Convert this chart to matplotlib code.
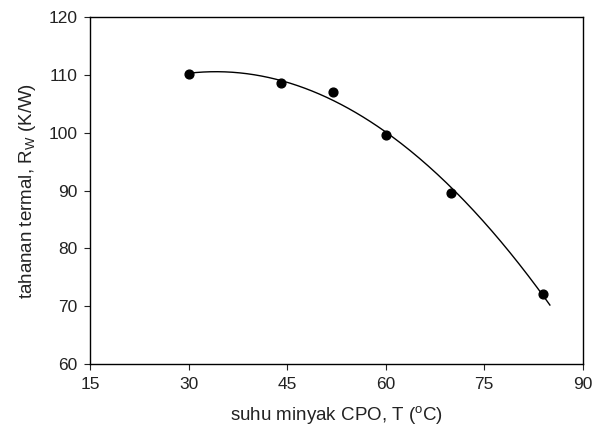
import numpy as np
import matplotlib
matplotlib.use("Agg")
import matplotlib.pyplot as plt

plt.rcParams['font.family'] = ['Liberation Sans', 'DejaVu Sans']
plt.rcParams['mathtext.fontset'] = 'custom'
plt.rcParams['mathtext.rm'] = 'Liberation Sans'
plt.rcParams['mathtext.it'] = 'Liberation Sans'

suhu = [30, 44, 52, 60, 70, 84]
tahanan = [110.1, 108.6, 107.1, 99.6, 89.6, 72.2]
fit_range = [30, 85]

coef = np.polyfit(suhu, tahanan, 2)
xs = np.linspace(fit_range[0], fit_range[1], 200)

fig = plt.figure(figsize=(5.94, 4.32), dpi=100)
ax = fig.add_axes([0.152, 0.157, 0.829, 0.804])
ax.plot(xs, np.polyval(coef, xs), color='black', lw=1.0)
ax.scatter(suhu, tahanan, s=40, color='black', zorder=3)

ax.set_xlim(15, 90)
ax.set_ylim(60, 120)
ax.set_xticks(np.arange(15, 91, 15))
ax.set_yticks(np.arange(60, 121, 10))
ax.tick_params(direction='out', length=4, labelsize=12.5, colors='#222222', pad=5)
for s in ax.spines.values():
    s.set_linewidth(1.0)
ax.set_xlabel(r'suhu minyak CPO, T ($^{\rm o}$C)', fontsize=13.5, labelpad=9, color='#222222')
ax.set_ylabel(r'tahanan termal, R$_{\rm W}$ (K/W)', fontsize=13.5, labelpad=8, color='#222222')

fig.savefig('out.png', dpi=100)
